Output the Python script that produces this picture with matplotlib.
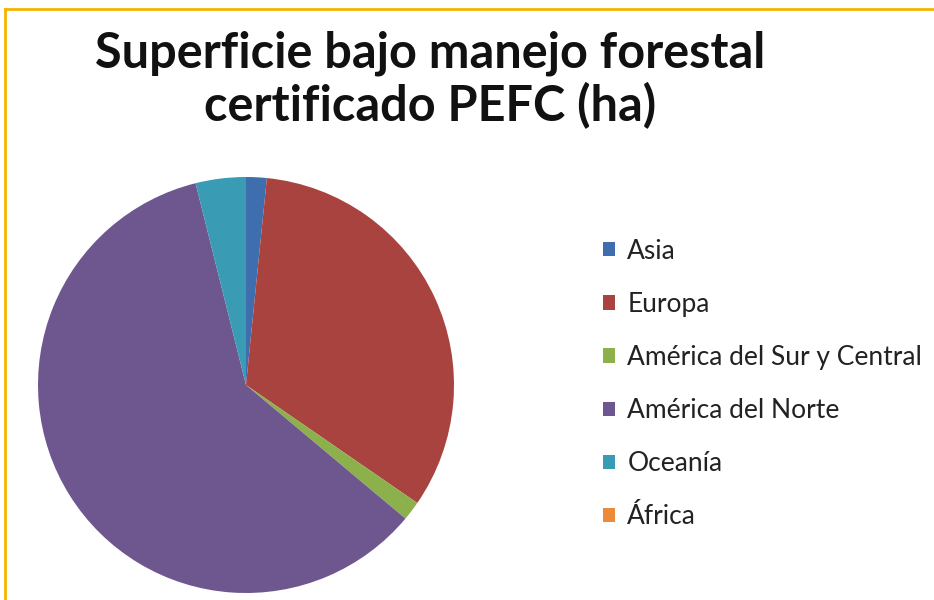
import matplotlib
matplotlib.use("Agg")
import matplotlib.pyplot as plt
from matplotlib.lines import Line2D
from matplotlib.patches import Patch

categories = ["Asia", "Europa", "América del Sur y Central", "América del Norte", "Oceanía", "África"]
values = [1.6, 33.0, 1.5, 60.0, 3.9, 0.0]
colors = ["#3F6EAE", "#A8433F", "#8CB04B", "#6E568F", "#3A9BB4", "#EC8A3B"]
title = "Superficie bajo manejo forestal\ncertificado PEFC (ha)"

fig = plt.figure(figsize=(9.34, 6.0), dpi=100)
fig.patch.set_facecolor("white")

ax = fig.add_axes([38 / 934, 7 / 600, 416 / 934, 416 / 600])
ax.pie(values, colors=colors, startangle=90, counterclock=False,
       wedgeprops=dict(linewidth=0), radius=1.0)
ax.set_xlim(-1, 1)
ax.set_ylim(-1, 1)
ax.set_aspect("equal")
ax.axis("off")

fig.text(430 / 934, 1 - 80 / 600, title, ha="center", va="center",
         fontsize=35, fontweight="bold", family="Lato", linespacing=1.15,
         color="#111111")

handles = [Patch(facecolor=c, edgecolor="none") for c in colors]
fig.legend(handles, categories, loc="upper left",
           bbox_to_anchor=(579 / 934, 1 - 215 / 600), frameon=False,
           prop=dict(family="Lato", size=19), handlelength=0.45, handleheight=0.45,
           handletextpad=0.48, labelspacing=1.065, labelcolor="#222222")

# frame lines
fig.add_artist(Line2D([5 / 934, 1.0], [1 - 9 / 600, 1 - 9 / 600], color="#F5B400", linewidth=2))
fig.add_artist(Line2D([5 / 934, 5 / 934], [0.0, 1 - 9 / 600], color="#F5B400", linewidth=2))

fig.savefig("out.png", dpi=100, facecolor="white")
